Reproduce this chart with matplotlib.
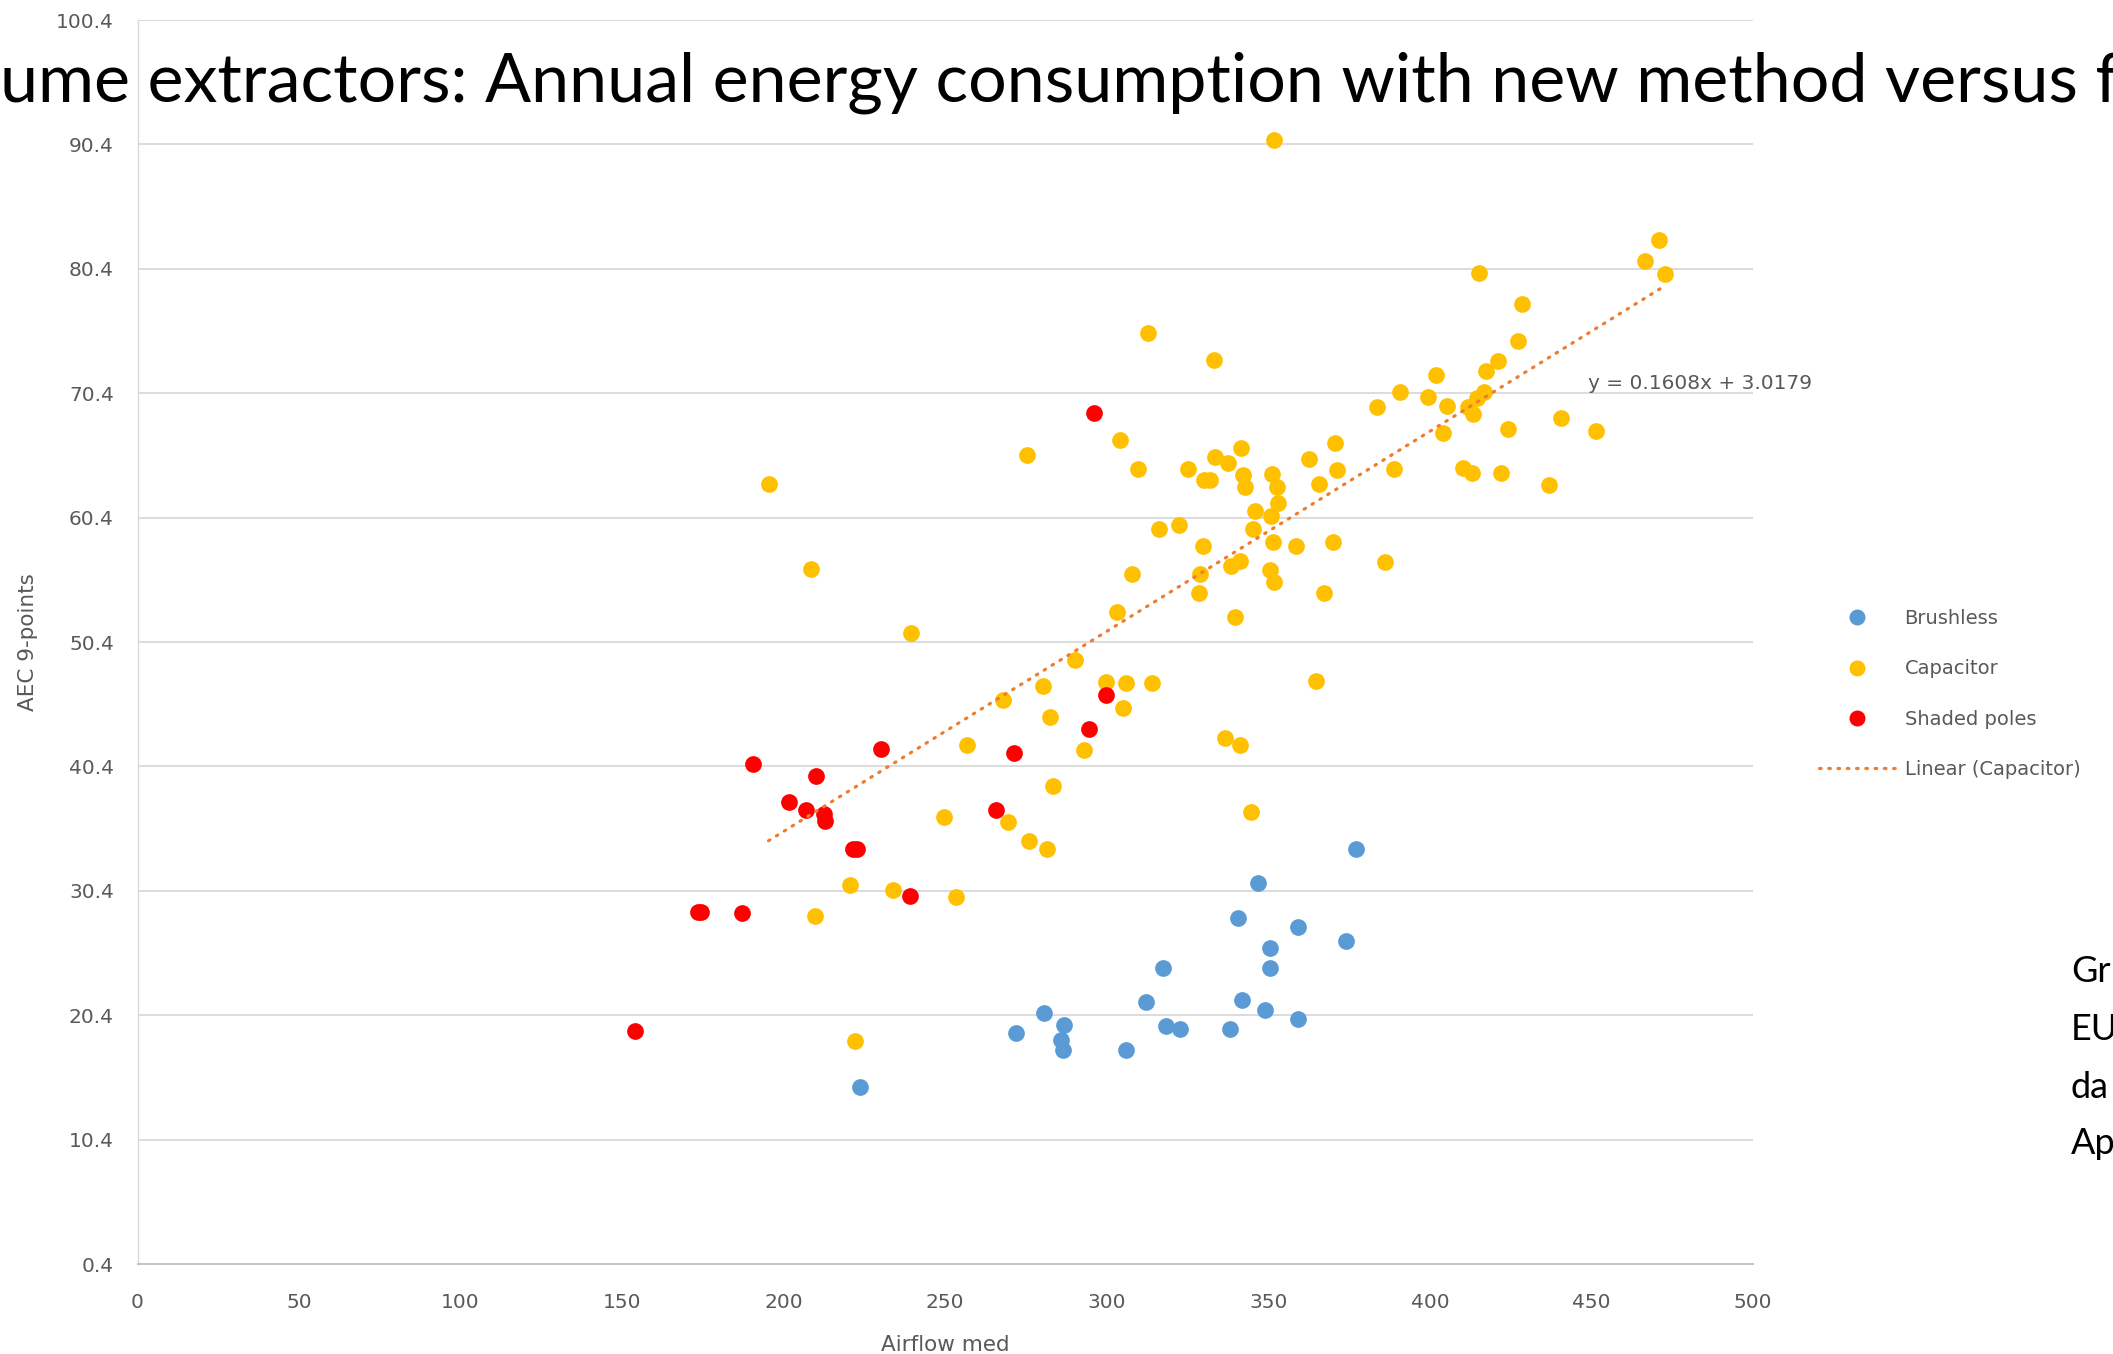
import numpy as np
import matplotlib
matplotlib.use("Agg")
import matplotlib.pyplot as plt
from matplotlib.lines import Line2D

# ---------------- data ----------------
brushless_x = [223.5, 272.0, 280.6, 286.6, 285.9, 286.3, 305.9, 312.2, 317.4, 318.4, 322.8,
               338.0, 340.6, 341.9, 346.7, 349.0, 350.6, 350.6, 359.1, 359.1, 373.9, 377.2]
brushless_y = [14.65, 19.0, 20.55, 19.6, 18.4, 17.6, 17.6, 21.5, 24.2, 19.5, 19.3,
               19.3, 28.2, 21.6, 31.0, 20.8, 25.8, 24.2, 27.5, 20.1, 26.4, 33.8]

capacitor_x = [222.0, 209.8, 220.6, 233.8, 253.2, 249.6, 269.3, 275.9, 281.6, 283.3,
               344.6, 256.7, 292.8, 268.0, 280.4, 282.5, 290.2, 239.4, 208.6, 195.3,
               275.3, 299.6, 306.0, 314.0, 305.0, 336.7, 341.1, 364.9, 303.2, 339.8,
               367.3, 328.4, 328.7, 307.8, 338.5, 341.3, 350.4, 351.9, 386.0, 316.3,
               322.2, 329.8, 345.1, 351.3, 358.7, 370.0, 345.8, 350.9, 352.9, 342.9,
               352.7, 342.3, 351.1, 330.0, 331.8, 309.8, 325.0, 333.4, 337.5, 341.4,
               304.2, 362.5, 365.8, 370.5, 371.1, 388.8, 410.2, 413.1, 422.0, 436.9,
               404.2, 424.3, 440.5, 451.3, 383.5, 390.6, 399.4, 405.2, 411.8, 413.3,
               414.6, 416.7, 402.0, 417.5, 421.2, 427.3, 428.6, 415.1, 466.7, 470.8,
               472.9, 312.8, 333.3, 351.9]
capacitor_y = [18.3, 28.4, 30.9, 30.5, 29.9, 36.3, 35.9, 34.4, 33.8, 38.85,
               36.7, 42.1, 41.7, 45.7, 46.9, 44.4, 48.95, 51.1, 56.3, 63.1,
               65.4, 47.2, 47.1, 47.1, 45.1, 42.7, 42.1, 47.3, 52.8, 52.4,
               54.3, 54.3, 55.9, 55.9, 56.5, 56.9, 56.2, 55.2, 56.8, 59.5,
               59.8, 58.1, 59.5, 58.4, 58.1, 58.4, 60.9, 60.5, 61.6, 62.9,
               62.9, 63.8, 63.9, 63.4, 63.4, 64.3, 64.3, 65.25, 64.8, 66.0,
               66.6, 65.1, 63.1, 66.4, 64.2, 64.3, 64.4, 64.0, 64.0, 63.0,
               67.2, 67.5, 68.4, 67.4, 69.3, 70.5, 70.1, 69.4, 69.3, 68.7,
               70.0, 70.5, 71.9, 72.2, 73.0, 74.6, 77.55, 80.1, 81.0, 82.7,
               79.95, 75.2, 73.1, 90.75]

shaded_x = [154.1, 173.5, 174.5, 187.1, 190.4, 201.6, 206.9, 210.1, 212.6, 212.8,
            221.3, 222.7, 230.2, 239.2, 265.8, 271.4, 294.4, 299.6, 295.9]
shaded_y = [19.1, 28.7, 28.7, 28.6, 40.6, 37.5, 36.9, 39.6, 36.6, 36.0,
            33.8, 33.8, 41.8, 30.0, 36.9, 41.5, 43.4, 46.1, 68.8]

trend_slope = 0.1608
trend_intercept = 3.0179
trend_label = "y = 0.1608x + 3.0179"

series_names = ["Brushless", "Capacitor", "Shaded poles"]
trend_name = "Linear (Capacitor)"

x_ticks = [0, 50, 100, 150, 200, 250, 300, 350, 400, 450, 500]
y_ticks = [0.4, 10.4, 20.4, 30.4, 40.4, 50.4, 60.4, 70.4, 80.4, 90.4, 100.4]
y_tick_labels = ["0.4", "10.4", "20.4", "30.4", "40.4", "50.4", "60.4", "70.4", "80.4", "90.4", "100.4"]

title_text = "ume extractors: Annual energy consumption with new method versus f"
side_lines = ["Gr", "EU", "da", "Ap"]

# ---------------- style ----------------
C_BLUE = "#5B9BD5"
C_YELLOW = "#FFC000"
C_RED = "#FF0000"
C_TREND = "#ED7D31"
C_GRID = "#D9D9D9"
C_TEXT = "#595959"

W, H = 2113, 1354
fig = plt.figure(figsize=(W / 100, H / 100), dpi=100)
fig.patch.set_facecolor("white")

ax_l, ax_r, ax_b, ax_t = 137.5, 1753, 1264, 20
ax = fig.add_axes([ax_l / W, 1 - ax_b / H, (ax_r - ax_l) / W, (ax_b - ax_t) / H])
ax.set_xlim(0, 500)
ax.set_ylim(0.4, 100.4)

for v in y_ticks[1:]:
    ax.axhline(v, color=C_GRID, lw=1.3, zorder=0)

for s in ["top", "right"]:
    ax.spines[s].set_visible(False)
ax.spines["left"].set_color(C_GRID)
ax.spines["left"].set_linewidth(1.0)
ax.spines["bottom"].set_color("#BFBFBF")
ax.spines["bottom"].set_linewidth(1.3)

ax.set_xticks(x_ticks)
ax.set_yticks(y_ticks)
ax.set_yticklabels(y_tick_labels)
ax.tick_params(axis="both", length=0, labelsize=14.5, labelcolor=C_TEXT)
ax.tick_params(axis="y", pad=17)
ax.tick_params(axis="x", pad=21)

ms = 145
ax.scatter(brushless_x, brushless_y, s=ms, color=C_BLUE, linewidths=0, zorder=3)
ax.scatter(capacitor_x, capacitor_y, s=ms, color=C_YELLOW, linewidths=0, zorder=4)
ax.scatter(shaded_x, shaded_y, s=ms, color=C_RED, linewidths=0, zorder=5)

tx = np.array([min(capacitor_x), max(capacitor_x)])
ax.plot(tx, trend_slope * tx + trend_intercept, color=C_TREND, lw=2.3,
        linestyle=(0, (0.5, 2.4)), dash_capstyle="round", zorder=6)
ax.text(449, 71.2, trend_label, color=C_TEXT, fontsize=14.5, ha="left", va="center",
        clip_on=False)

ax.set_xlabel("Airflow med", fontsize=15.5, color=C_TEXT)
ax.set_ylabel("AEC 9-points", fontsize=15.5, color=C_TEXT)
ax.xaxis.set_label_coords(0.5, -0.057)
ax.yaxis.set_label_coords(-0.0616, 0.5)

# legend
handles = [
    Line2D([], [], marker="o", linestyle="none", markersize=11.5, color=C_BLUE, markeredgewidth=0),
    Line2D([], [], marker="o", linestyle="none", markersize=11.5, color=C_YELLOW, markeredgewidth=0),
    Line2D([], [], marker="o", linestyle="none", markersize=11.5, color=C_RED, markeredgewidth=0),
    Line2D([], [], color=C_TREND, lw=2.3, linestyle=(0, (0.5, 2.4)), dash_capstyle="round"),
]
leg = fig.legend(handles, series_names + [trend_name], loc="upper left",
                 bbox_to_anchor=(1819 / W, 1 - 609 / H), frameon=False, fontsize=14,
                 handlelength=3.9, handletextpad=0.5, labelspacing=1.61, borderpad=0,
                 borderaxespad=0)
for t in leg.get_texts():
    t.set_color(C_TEXT)

# title (cropped in the reference)
title = fig.text(0, 1 - 101 / H, title_text, fontsize=50, family="Lato", color="black",
                 ha="left", va="baseline")
fig.canvas.draw()
bb = title.get_window_extent(renderer=fig.canvas.get_renderer())
title.set_fontsize(50 * 2118 / bb.width)

# cut-off side text
side_y = [971, 1029, 1087, 1144]
for lbl, yy in zip(side_lines, side_y):
    fig.text(2071 / W, 1 - yy / H, lbl, fontsize=26, family="Lato", color="black",
             ha="left", va="center")

fig.savefig("out.png", dpi=100, facecolor="white")
